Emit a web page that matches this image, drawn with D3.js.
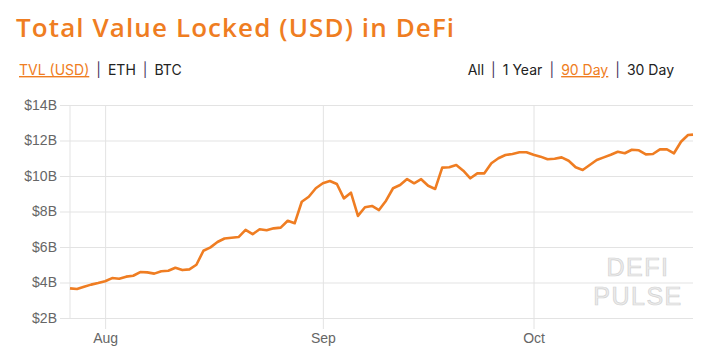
<!DOCTYPE html>
<html>
<head>
<meta charset="utf-8">
<script src="https://cdn.jsdelivr.net/npm/d3@7"></script>
<style>
  body { margin: 0; background: #fff; }
  svg { display: block; }
</style>
</head>
<body>
<script>
// Chart data (billions of USD, one value per day)
var startDay = "2020-07-27";
var tvlValues = [
  3.67, 3.63, 3.76, 3.88, 3.97, 4.07, 4.25, 4.21, 4.33, 4.38,
  4.59, 4.57, 4.50, 4.63, 4.66, 4.83, 4.70, 4.74, 5.00, 5.79,
  5.98, 6.28, 6.48, 6.52, 6.56, 6.96, 6.72, 7.00, 6.94, 7.05,
  7.09, 7.48, 7.34, 8.55, 8.83, 9.31, 9.59, 9.72, 9.55, 8.74,
  9.06, 7.75, 8.24, 8.31, 8.08, 8.61, 9.31, 9.49, 9.83, 9.59,
  9.82, 9.45, 9.27, 10.47, 10.49, 10.62, 10.30, 9.87, 10.15, 10.15,
  10.72, 11.00, 11.18, 11.24, 11.34, 11.34, 11.20, 11.09, 10.94, 10.97,
  11.05, 10.86, 10.49, 10.34, 10.62, 10.90, 11.05, 11.20, 11.37, 11.28,
  11.48, 11.45, 11.22, 11.24, 11.50, 11.50, 11.28, 11.93, 12.31
];
// latest reading, part way through the last day
var latestTime = "2020-10-23T17:00";
var latestValue = 12.33;

var yTicks = [2, 4, 6, 8, 10, 12, 14];
var unitLinks = ["TVL (USD)", "ETH", "BTC"];
var rangeLinks = ["All", "1 Year", "90 Day", "30 Day"];
var activeUnit = "TVL (USD)";
var activeRange = "90 Day";

// SVG size and chart margins
var svgWidth = 703;
var svgHeight = 354;
var margin = { top: 105, right: 10, bottom: 36, left: 70 };
var chartWidth = svgWidth - margin.left - margin.right;
var chartHeight = svgHeight - margin.top - margin.bottom;

var orange = "#ef7d22";

var svg = d3.select("body")
  .append("svg")
  .attr("width", svgWidth)
  .attr("height", svgHeight);

// build the series
var parseDay = d3.timeParse("%Y-%m-%d");
var parseTime = d3.timeParse("%Y-%m-%dT%H:%M");
var day0 = parseDay(startDay);
var tvlData = tvlValues.map(function (v, i) {
  return { date: d3.timeDay.offset(day0, i), value: v };
});
tvlData.push({ date: parseTime(latestTime), value: latestValue });

// title
svg.append("text")
  .attr("x", 16)
  .attr("y", 37)
  .attr("font-family", "'Open Sans', sans-serif")
  .attr("font-weight", 600)
  .attr("font-size", "26px")
  .attr("letter-spacing", "1.1px")
  .attr("fill", orange)
  .text("Total Value Locked (USD) in DeFi");

// link rows
function linkRow(labels, active, x, anchor) {
  var t = svg.append("text")
    .attr("x", x)
    .attr("y", 75)
    .attr("text-anchor", anchor)
    .attr("font-family", "Inter, 'Open Sans', sans-serif")
    .attr("font-size", "14px");
  labels.forEach(function (label, i) {
    if (i > 0) {
      t.append("tspan").attr("dx", 7).attr("fill", "#4a3560").text("|");
    }
    t.append("tspan")
      .attr("dx", i > 0 ? 7 : 0)
      .attr("fill", label === active ? orange : "#222")
      .attr("text-decoration", label === active ? "underline" : null)
      .text(label);
  });
}
linkRow(unitLinks, activeUnit, 19, "start");
linkRow(rangeLinks, activeRange, 674, "end");

var chartGroup = svg.append("g")
  .attr("transform", `translate(${margin.left}, ${margin.top})`);

var xTimeScale = d3.scaleTime()
  .domain([day0, parseTime(latestTime)])
  .range([0, chartWidth]);

var yLinearScale = d3.scaleLinear()
  .domain([2, 14])
  .range([chartHeight, 0]);

// horizontal grid + left ticks
var leftAxis = d3.axisLeft(yLinearScale)
  .tickValues(yTicks)
  .tickSize(-chartWidth - 10)
  .tickPadding(3)
  .tickFormat(d => "$" + d + "B");

chartGroup.append("g")
  .attr("transform", "translate(-10, 0)")
  .call(leftAxis)
  .call(g => g.select(".domain").remove())
  .call(g => g.selectAll("line").attr("stroke", "#e3e3e3"))
  .call(g => g.selectAll("text")
    .attr("font-family", "'Liberation Sans', Arial, sans-serif")
    .attr("font-size", "14px")
    .attr("fill", "#666"));

// vertical grid + month ticks
var bottomAxis = d3.axisBottom(xTimeScale)
  .ticks(d3.timeMonth.every(1))
  .tickSize(-chartHeight - 11)
  .tickPadding(4)
  .tickFormat(d3.timeFormat("%b"));

chartGroup.append("g")
  .attr("transform", `translate(0, ${chartHeight + 11})`)
  .call(bottomAxis)
  .call(g => g.select(".domain").remove())
  .call(g => g.selectAll("line").attr("stroke", "#e3e3e3"))
  .call(g => g.selectAll("text")
    .attr("font-family", "'Liberation Sans', Arial, sans-serif")
    .attr("font-size", "14px")
    .attr("fill", "#666"));

// left edge line
chartGroup.append("line")
  .attr("x1", 0).attr("x2", 0)
  .attr("y1", 0).attr("y2", chartHeight)
  .attr("stroke", "#e3e3e3");

// watermark
var mark = chartGroup.append("g")
  .attr("font-family", "'Liberation Sans', Arial, sans-serif")
  .attr("font-size", "25px")
  .attr("text-anchor", "middle")
  .attr("fill", "#ececec")
  .attr("stroke", "#d2d2d2")
  .attr("stroke-width", 0.7)
  .attr("letter-spacing", "1.5px");
mark.append("text").attr("x", 568).attr("y", 171).text("DEFI");
mark.append("text").attr("x", 568).attr("y", 200).text("PULSE");

// the line
var drawLine = d3.line()
  .x(d => xTimeScale(d.date))
  .y(d => yLinearScale(d.value));

chartGroup.append("path")
  .datum(tvlData)
  .attr("d", drawLine)
  .attr("fill", "none")
  .attr("stroke", orange)
  .attr("stroke-width", 2.6)
  .attr("stroke-linejoin", "round");
</script>
</body>
</html>
